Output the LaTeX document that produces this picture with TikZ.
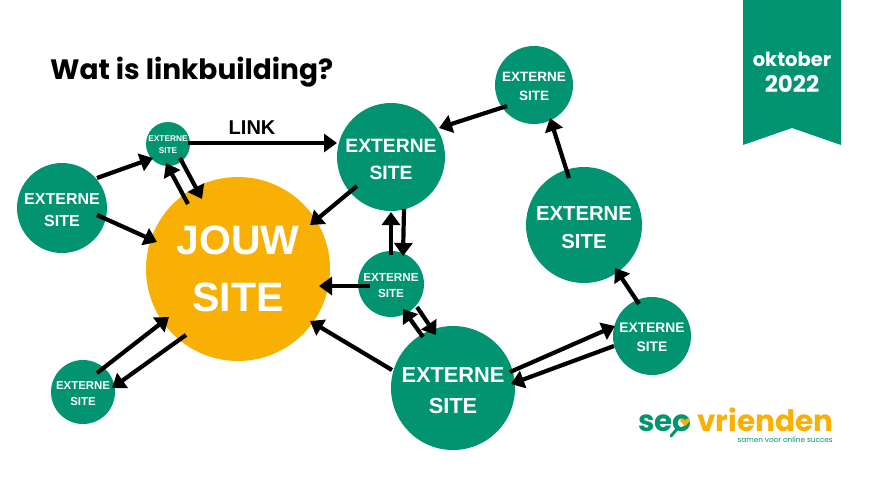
\documentclass[tikz,border=0pt]{standalone}
\usepackage{fontspec}
\setmainfont{Liberation Sans}
\newfontfamily\brandfont{Poppins}
\usepackage{xcolor}
\usetikzlibrary{arrows.meta, calc}
\definecolor{seogreen}{RGB}{2, 148, 113}
\definecolor{seoorange}{RGB}{249, 176, 4}
\newcommand{\externesite}{\rule{0pt}{.92em}EXTERNE\\SITE}

\begin{document}
\begin{tikzpicture}[
  x=1pt, y=-1pt,
  site/.style 2 args={circle, fill=seogreen, text=white, align=center, inner sep=-15pt, minimum size=#1pt, font=\bfseries\linespread{1.4}\fontsize{#2}{#2}\selectfont},
  link/.style={-{Triangle[length=13pt, width=18pt]}, line width=4.2pt, black},
  brand/.style={inner sep=0pt, anchor=base west, font=\brandfont\bfseries\fontsize{29.5}{30}\selectfont}
]
\useasboundingbox (0,0) rectangle (891,501);

\node[anchor=base west, inner sep=0pt, font=\brandfont\bfseries\fontsize{28}{28}\selectfont] (title) at (50,79) {Wat is linkbuilding?};

% ribbon
\fill[seogreen] (743,0) -- (841,0) -- (841,145) -- (792,128) -- (743,145) -- cycle;
\node[text=white, align=center, inner sep=0pt, font=\brandfont\bfseries\fontsize{19.5}{26}\selectfont] (datum) at (792,72.5) {oktober\\\fontsize{23}{26}\selectfont 2022};

% sites
\node[site={184}{41}, fill=seoorange] (jouw) at (238,269) {JOUW\\SITE};
\node[site={90}{16}] (links) at (62,208) {\externesite};
\node[site={44}{8.3}] (klein) at (168,144) {\externesite};
\node[site={108}{19.3}] (midden) at (391,157) {\externesite};
\node[site={78}{13.5}] (boven) at (534,85) {\externesite};
\node[site={116}{20.3}] (rechts) at (584,225) {\externesite};
\node[site={78}{13.8}] (zijde) at (652,336) {\externesite};
\node[site={124}{21.8}] (onder) at (453,388) {\externesite};
\node[site={66}{11.7}] (tussen) at (391,284) {\externesite};
\node[site={64}{11.4}] (hoek) at (83,392) {\externesite};

% links
\draw[link] ($(links)+(35,-30)$) -- ($(klein)+(-15,14)$);
\draw[link] ($(links)+(35,7)$) -- ($(jouw)+(-81,-27)$);
\draw[link] ($(klein)+(12,14)$) -- ($(jouw)+(-36,-70)$);
\draw[link] ($(jouw)+(-50,-65)$) -- ($(klein)+(-2,19)$);
\draw[link] ($(klein)+(20,-1)$) -- node[pos=0.43, above=6pt, inner sep=0pt, font=\bfseries\fontsize{20}{20}\selectfont] (linklabel) {LINK} ($(midden)+(-54,-14)$);
\draw[link] ($(midden)+(-34,29)$) -- ($(jouw)+(72,-44)$);
\draw[link] ($(tussen)+(0,-29)$) -- ($(midden)+(0,55)$);
\draw[link] ($(midden)+(13,52)$) -- ($(tussen)+(12,-28)$);
\draw[link] ($(tussen)+(-21,2)$) -- ($(jouw)+(81,17)$);
\draw[link] ($(tussen)+(26,23)$) -- ($(onder)+(-17,-53)$);
\draw[link] ($(onder)+(-30,-51)$) -- ($(tussen)+(12,25)$);
\draw[link] ($(onder)+(-61,-18)$) -- ($(jouw)+(72,52)$);
\draw[link] ($(onder)+(57,-16)$) -- ($(zijde)+(-37,-10)$);
\draw[link] ($(zijde)+(-38,10)$) -- ($(onder)+(58,-4)$);
\draw[link] ($(zijde)+(-13,-32)$) -- ($(rechts)+(31,43)$);
\draw[link] ($(rechts)+(-15,-47)$) -- ($(boven)+(16,33)$);
\draw[link] ($(boven)+(-27,21)$) -- ($(midden)+(48,-29)$);
\draw[link] ($(jouw)+(-52,66)$) -- ($(hoek)+(29,-4)$);
\draw[link] ($(hoek)+(14,-19)$) -- ($(jouw)+(-69,48)$);

% logo
\node[brand, text=seogreen] (logoseo) at (638,431.5) {seo};
\node[brand, text=seoorange] (logovr) at (697,431.5) {vrienden};
\node[inner sep=0pt, anchor=base east, text=seogreen, font=\brandfont\fontsize{7.3}{7.3}\selectfont] (slogan) at (833,442) {samen voor online succes};
\draw[seogreen, line width=3pt, line cap=round] (677,429) -- (671,436);
\fill[seoorange] (685,426) -- (680,421) arc[start angle=180, end angle=0, radius=2.5pt] arc[start angle=180, end angle=0, radius=2.5pt] -- cycle;
\end{tikzpicture}
\end{document}
